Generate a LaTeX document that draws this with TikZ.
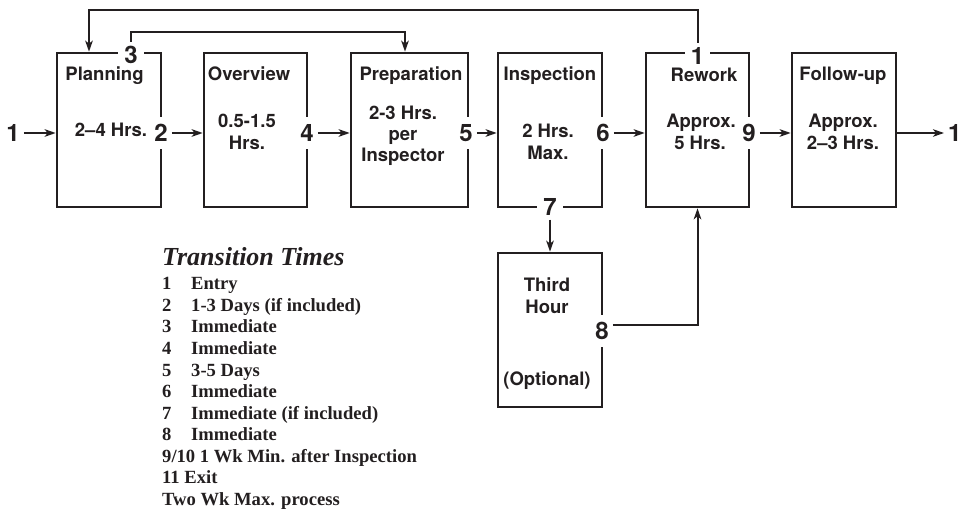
\documentclass[tikz,border=0pt]{standalone}
\usepackage{fontspec}
\setmainfont{Liberation Serif}
\newfontfamily\boxfont[Ligatures=TeX]{TeX Gyre Heros}
\usetikzlibrary{arrows.meta}
\definecolor{ink}{HTML}{231F20}

\begin{document}
\begin{tikzpicture}[x=1pt,y=-1pt,
  every node/.style={text=ink},
  stage/.style={draw=ink, line width=2.6pt, minimum height=154pt, inner sep=0pt},
  boxtxt/.style={font=\boxfont\bfseries\fontsize{18.5}{21.5}\selectfont, anchor=base, inner sep=0pt},
  numlab/.style={font=\boxfont\bfseries\fontsize{24}{26}\selectfont, fill=white, inner xsep=4pt, inner ysep=7.5pt},
  toplab/.style={numlab, inner xsep=6pt, inner ysep=1pt},
  flow/.style={draw=ink, line width=2pt, -{Stealth[length=11pt,width=7.5pt,inset=3pt]}},
  legtitle/.style={font=\bfseries\itshape\fontsize{26}{30}\selectfont, anchor=base west, inner sep=0pt},
  legnum/.style={font=\bfseries\fontsize{18.6}{21.5}\selectfont, anchor=base west, inner sep=0pt},
]
\useasboundingbox (0,0) rectangle (963,510);

% process stages
\node[stage, minimum width=104pt] (pl) at (109,130) {};
\node[stage, minimum width=103pt] (ov) at (255.5,130) {};
\node[stage, minimum width=117pt] (pr) at (409.5,130) {};
\node[stage, minimum width=104pt] (in) at (550,130) {};
\node[stage, minimum width=103pt] (rw) at (697.5,130) {};
\node[stage, minimum width=104pt] (fu) at (844,130) {};
\node[stage, minimum width=104pt] (th) at (550,330) {};

% transition numbers, breaking the stage outlines
\node[numlab, fill=none] (n1) at (13,133) {1};
\node[numlab] (n2) at (161,133) {2};
\node[toplab] (n3) at (131,55) {3};
\node[numlab] (n4) at (307,133) {4};
\node[numlab] (n5) at (466,133) {5};
\node[numlab] (n6) at (603,133) {6};
\node[toplab] (n7) at (550,207) {7};
\node[numlab] (n8) at (602,331) {8};
\node[numlab] (n9) at (749,133) {9};
\node[toplab] (r1) at (697.5,55.5) {1};
\node[numlab, fill=none, anchor=west] (x1) at (944,133) {1};

% stage texts
\node[boxtxt] (plA) at (104.5,81) {Planning};
\node[boxtxt] (plB) at (111,137) {2–4 Hrs.};
\node[boxtxt] (ovA) at (249,81) {Overview};
\node[boxtxt] (ovB) at (247,128) {0.5-1.5};
\node[boxtxt] (ovC) at (247,150) {Hrs.};
\node[boxtxt] (prA) at (411,81) {Preparation};
\node[boxtxt] (prB) at (403,119.5) {2-3 Hrs.};
\node[boxtxt] (prC) at (403,141) {per};
\node[boxtxt] (prD) at (403,162) {Inspector};
\node[boxtxt] (inA) at (550,81) {Inspection};
\node[boxtxt] (inB) at (548,138) {2 Hrs.};
\node[boxtxt] (inC) at (548,159.5) {Max.};
\node[boxtxt] (rwA) at (704,82) {Rework};
\node[boxtxt] (rwB) at (701,128) {Approx.};
\node[boxtxt] (rwC) at (700,150) {5 Hrs.};
\node[boxtxt] (fuA) at (843,81) {Follow-up};
\node[boxtxt] (fuB) at (843,128) {Approx.};
\node[boxtxt] (fuC) at (843,150) {2–3 Hrs.};
\node[boxtxt] (thA) at (547,292) {Third};
\node[boxtxt] (thB) at (547,313) {Hour};
\node[boxtxt] (thC) at (547,385) {(Optional)};

% connectors
\coordinate (loopA) at (89,10);
\coordinate (loopB) at (405,32);
\draw[flow] (n1.east) -- (n1.east -| pl.west);
\draw[flow] (n2.east) -- (n2.east -| ov.west);
\draw[flow] (n4.east) -- (n4.east -| pr.west);
\draw[flow] (n5.east) -- (n5.east -| in.west);
\draw[flow] (n6.east) -- (n6.east -| rw.west);
\draw[flow] (n9.east) -- (n9.east -| fu.west);
\draw[flow] (fu.east |- x1.west) -- (x1.west);
\draw[flow] ([yshift=-3pt]n7.south) -- (th.north);
\draw[flow] ([yshift=6pt]n8.east) -| (rw.south);
\draw[flow] ([yshift=3pt]r1.north) -- (r1.north |- loopA) -- (loopA) -- (loopA |- pl.north);
\draw[flow] ([yshift=3pt]n3.north) -- (n3.north |- loopB) -- (loopB) -- (loopB |- pr.north);

% legend
\node[legtitle] (lgT) at (162,266) {Transition Times};
\node[legnum] (lg1n) at (162,290) {1};   \node[legnum] (lg1t) at (191,290) {Entry};
\node[legnum] (lg2n) at (162,311.5) {2}; \node[legnum] (lg2t) at (191,311.5) {1-3 Days (if included)};
\node[legnum] (lg3n) at (162,333) {3};   \node[legnum] (lg3t) at (191,333) {Immediate};
\node[legnum] (lg4n) at (162,354.5) {4}; \node[legnum] (lg4t) at (191,354.5) {Immediate};
\node[legnum] (lg5n) at (162,376) {5};   \node[legnum] (lg5t) at (191,376) {3-5 Days};
\node[legnum] (lg6n) at (162,397.5) {6}; \node[legnum] (lg6t) at (191,397.5) {Immediate};
\node[legnum] (lg7n) at (162,419) {7};   \node[legnum] (lg7t) at (191,419) {Immediate (if included)};
\node[legnum] (lg8n) at (162,440.5) {8}; \node[legnum] (lg8t) at (191,440.5) {Immediate};
\node[legnum] (lg9) at (162,462) {9/10 1 Wk Min. after Inspection};
\node[legnum] (lg11) at (162,483.5) {11 Exit};
\node[legnum] (lgX) at (162,505) {Two Wk Max. process};
\end{tikzpicture}
\end{document}
